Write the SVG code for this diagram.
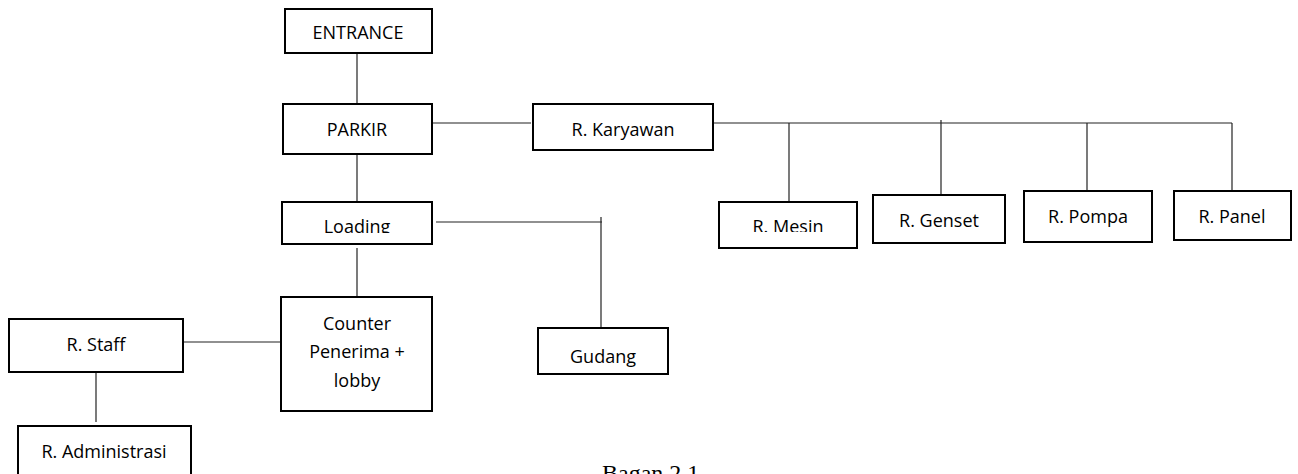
<svg xmlns="http://www.w3.org/2000/svg" width="1298" height="474" viewBox="0 0 1298 474">
<style>
.box{fill:#fff;stroke:#000;stroke-width:2}
.t{font-family:"Open Sans","Liberation Sans",sans-serif;font-size:18px;fill:#000;text-anchor:middle}
.c{stroke:#222;stroke-width:1.2;fill:none}
.cap{font-family:"Liberation Serif",serif;font-size:24px;fill:#000}
</style>
<defs>
<clipPath id="clipLoading"><rect x="282" y="202" width="150" height="31"/></clipPath>
<clipPath id="clipMesin"><rect x="719" y="202" width="138" height="30"/></clipPath>
</defs>
<rect width="1298" height="474" fill="#fff"/>
<g id="connectors">
<line class="c" x1="357" y1="53" x2="357" y2="104"/>
<line class="c" x1="432" y1="123" x2="531" y2="123"/>
<line class="c" x1="713" y1="123" x2="1232" y2="123"/>
<line class="c" x1="789" y1="123" x2="789" y2="202"/>
<line class="c" x1="941" y1="120" x2="941" y2="199"/>
<line class="c" x1="1087" y1="123" x2="1087" y2="191"/>
<line class="c" x1="1232" y1="123" x2="1232" y2="191"/>
<line class="c" x1="357" y1="154" x2="357" y2="202"/>
<line class="c" x1="436" y1="222" x2="602" y2="222"/>
<line class="c" x1="601" y1="217" x2="601" y2="328"/>
<line class="c" x1="357" y1="248" x2="357" y2="297"/>
<line class="c" x1="183" y1="342" x2="281" y2="342"/>
<line class="c" x1="96" y1="372" x2="96" y2="422"/>
</g>
<g id="entrance"><rect class="box" x="285" y="9" width="147" height="44"/><text class="t" x="358" y="39">ENTRANCE</text></g>
<g id="parkir"><rect class="box" x="283" y="104" width="149" height="50"/><text class="t" x="357" y="136">PARKIR</text></g>
<g id="karyawan"><rect class="box" x="533" y="104" width="180" height="46"/><text class="t" x="623" y="136">R. Karyawan</text></g>
<g id="loading"><rect class="box" x="282" y="202" width="150" height="42"/><text class="t" x="357" y="233" clip-path="url(#clipLoading)">Loading</text></g>
<g id="mesin"><rect class="box" x="719" y="202" width="138" height="46"/><text class="t" x="788" y="233" clip-path="url(#clipMesin)">R. Mesin</text></g>
<g id="genset"><rect class="box" x="873" y="195" width="132" height="48"/><text class="t" x="939" y="227">R. Genset</text></g>
<g id="pompa"><rect class="box" x="1024" y="191" width="128" height="51"/><text class="t" x="1088" y="223">R. Pompa</text></g>
<g id="panel"><rect class="box" x="1174" y="191" width="117" height="49"/><text class="t" x="1232" y="223">R. Panel</text></g>
<g id="counter"><rect class="box" x="281" y="297" width="151" height="114"/><text class="t" x="357" y="330">Counter</text><text class="t" x="357" y="358">Penerima +</text><text class="t" x="357" y="387">lobby</text></g>
<g id="gudang"><rect class="box" x="538" y="328" width="130" height="46"/><text class="t" x="603" y="363">Gudang</text></g>
<g id="staff"><rect class="box" x="9" y="319" width="174" height="53"/><text class="t" x="96" y="351">R. Staff</text></g>
<g id="administrasi"><rect class="box" x="18" y="426" width="173" height="52"/><text class="t" x="104" y="458">R. Administrasi</text></g>
<text class="cap" x="602" y="481">Bagan 2.1</text>
</svg>
